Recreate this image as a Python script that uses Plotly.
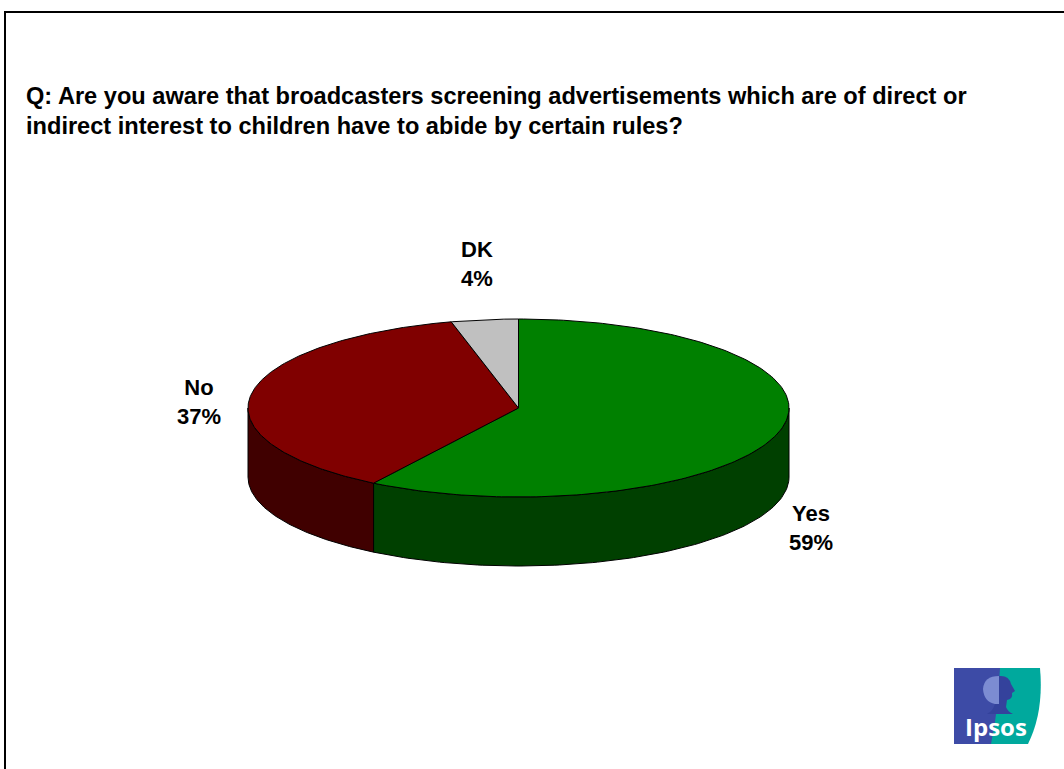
import numpy as np
import plotly.graph_objects as go

# Survey answers
categories = ["Yes", "No", "DK"]
values = [59, 37, 4]
top_colors = ["#008000", "#800000", "#C0C0C0"]
side_colors = ["#004000", "#400000", "#606060"]

title_lines = [
    "Q: Are you aware that broadcasters screening advertisements which are of direct or",
    "indirect interest to children have to abide by certain rules?",
]

W, H = 1064, 769
# 3-D pie geometry (pixel space)
cx, cy = 518.5, 408.0
rx, ry = 270.5, 89.0
depth = 69.0

fig = go.Figure()

def pt(theta_deg, dy=0.0):
    t = np.radians(theta_deg)
    return cx + rx * np.sin(t), cy - ry * np.cos(t) + dy

total = float(sum(values))
bounds = []
start = 0.0
for v in values:
    end = start + 360.0 * v / total
    bounds.append((start, end))
    start = end

# Front walls (visible between 90 and 270 degrees, clockwise from top)
for (a0, a1), sc in zip(bounds, side_colors):
    lo, hi = max(a0, 90.0), min(a1, 270.0)
    if hi <= lo:
        continue
    th = np.linspace(lo, hi, 120)
    xs_top, ys_top = pt(th)
    xs_bot, ys_bot = pt(th[::-1], depth)
    xs = np.concatenate([xs_top, xs_bot, xs_top[:1]])
    ys = np.concatenate([ys_top, ys_bot, ys_top[:1]])
    fig.add_trace(go.Scatter(x=xs, y=ys, mode="lines", fill="toself",
                             fillcolor=sc, line=dict(color="black", width=1),
                             hoverinfo="skip", showlegend=False))

# Top faces
for (a0, a1), tc in zip(bounds, top_colors):
    th = np.linspace(a0, a1, 200)
    xs, ys = pt(th)
    xs = np.concatenate([[cx], xs, [cx]])
    ys = np.concatenate([[cy], ys, [cy]])
    fig.add_trace(go.Scatter(x=xs, y=ys, mode="lines", fill="toself",
                             fillcolor=tc, line=dict(color="black", width=1),
                             hoverinfo="skip", showlegend=False))

# Data labels
label_pos = {"Yes": (811, 528), "No": (199, 402), "DK": (477, 264)}
for cat, v in zip(categories, values):
    lx, ly = label_pos[cat]
    fig.add_annotation(x=lx, y=ly, xref="x", yref="y", showarrow=False,
                       text=f"<b>{cat}<br>{v}%</b>", align="center",
                       font=dict(family="Liberation Sans, Arial", size=22, color="black"))

# Question text
for i, line in enumerate(title_lines):
    fig.add_annotation(x=24, y=95.5 + 30 * i, xref="x", yref="y", showarrow=False,
                       xanchor="left", yanchor="middle", text=f"<b>{line}</b>",
                       font=dict(family="Liberation Sans, Arial", size=23.6, color="black"))

shapes = [
    # frame
    dict(type="rect", xref="x", yref="y", x0=5, y0=12, x1=W + 10, y1=H + 10,
         line=dict(color="black", width=2), fillcolor="rgba(0,0,0,0)", layer="above"),
    # logo: teal panel with curved right edge
    dict(type="path", xref="x", yref="y",
         path="M 990 668 L 1040 668 Q 1044 712 1028 744 L 990 744 Z",
         fillcolor="#00A99D", line=dict(width=0), layer="above"),
    # logo: blue panel, curved boundary
    dict(type="path", xref="x", yref="y",
         path="M 954 668 L 1000 668 Q 998 712 991 744 L 954 744 Z",
         fillcolor="#3D4BA6", line=dict(width=0), layer="above"),
    # tree crown (left half)
    dict(type="path", xref="x", yref="y",
         path="M 999 676 Q 984 676 983 689 Q 984 702 995 704 L 999 704 Z",
         fillcolor="#7C8CD2", line=dict(width=0), layer="above"),
    # head profile, neck and trunk base
    dict(type="path", xref="x", yref="y",
         path=("M 999 676 Q 1009 675 1011 684 L 1015 691 L 1012 693 "
               "Q 1013 699 1007 700 L 1006 707 Q 1008 712 1013 714 "
               "L 987 714 Q 993 711 995 704 L 999 704 Z"),
         fillcolor="#34429C", line=dict(width=0), layer="above"),
]
fig.add_annotation(x=995.5, y=726, xref="x", yref="y", showarrow=False,
                   text="<b>Ipsos</b>",
                   font=dict(family="Open Sans, Arial", size=24, color="white"))

fig.update_layout(
    width=W, height=H,
    margin=dict(l=0, r=0, t=0, b=0),
    paper_bgcolor="white", plot_bgcolor="white",
    shapes=shapes,
    xaxis=dict(range=[0, W], visible=False, fixedrange=True),
    yaxis=dict(range=[H, 0], visible=False, fixedrange=True),
    showlegend=False,
)

fig.write_html("out.html")
